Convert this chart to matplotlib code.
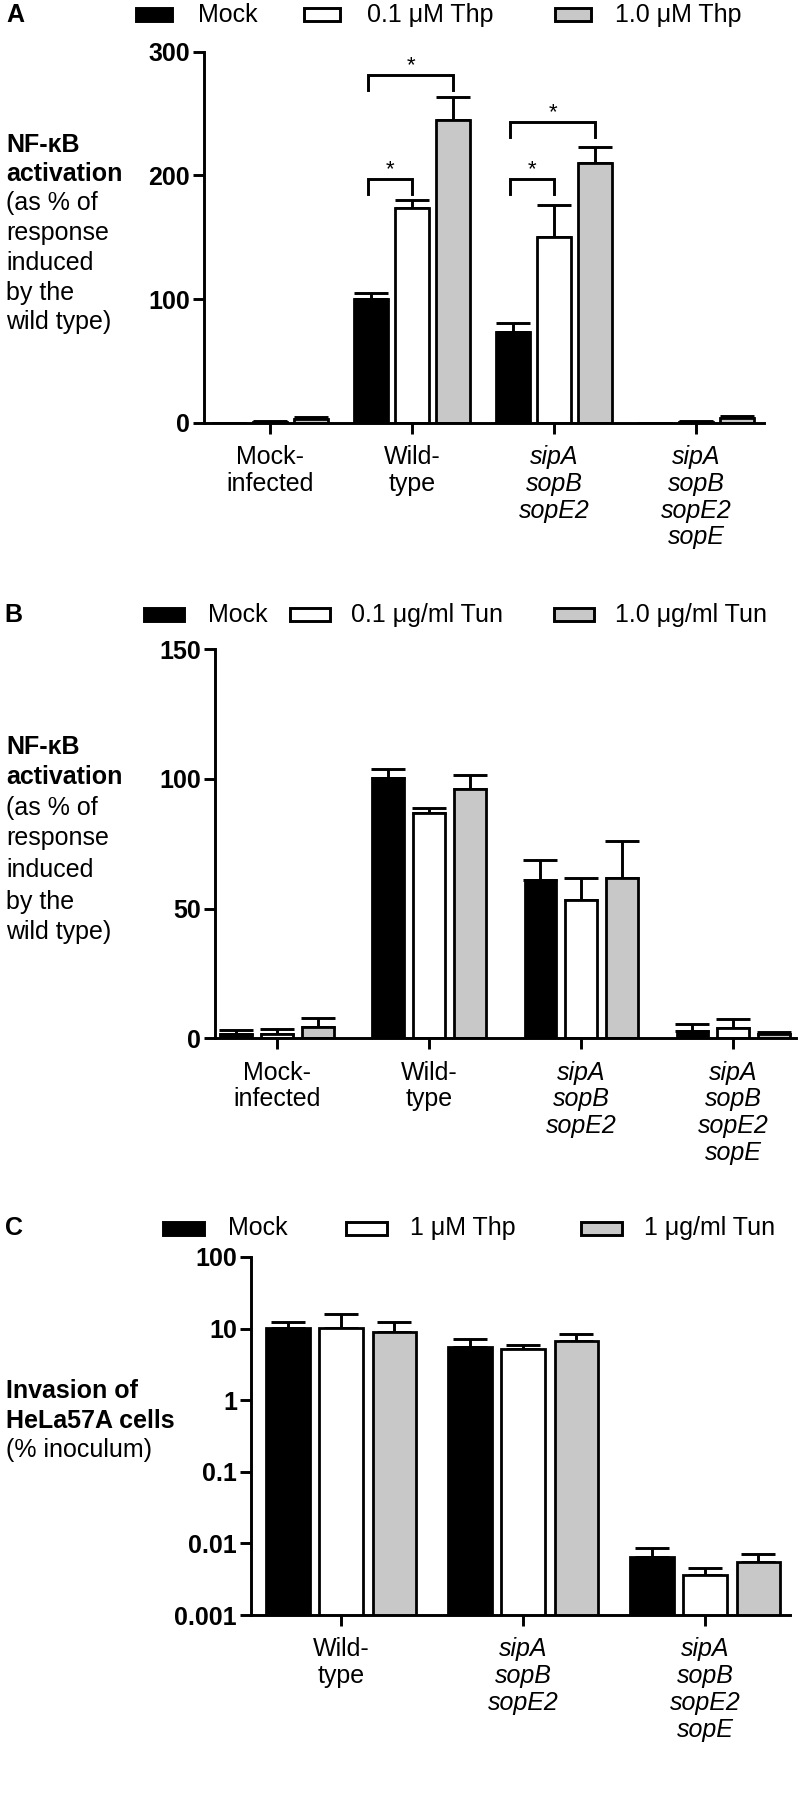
import matplotlib
matplotlib.use('Agg')
import matplotlib.pyplot as plt
import numpy as np
from matplotlib.patches import Rectangle

plt.rcParams['font.family'] = ['Liberation Sans', 'DejaVu Sans']

W, H = 800, 1794
DPI = 100

# ---------------- data ----------------
cats_ab = ['Mock-\ninfected', 'Wild-\ntype', 'sipA\nsopB\nsopE2', 'sipA\nsopB\nsopE2\nsopE']
italic_ab = [False, False, True, True]
cats_c = ['Wild-\ntype', 'sipA\nsopB\nsopE2', 'sipA\nsopB\nsopE2\nsopE']
italic_c = [False, True, True]

series_a = ['Mock', '0.1 \u03bcM Thp', '1.0 \u03bcM Thp']
a_mock = [0, 100, 73.5, 0]
a_thp01 = [0.8, 174, 150, 0.8]
a_thp10 = [3.2, 245, 210, 3.5]
a_mock_err = [0, 4.5, 7.5, 0]
a_thp01_err = [0.7, 6, 26, 0.8]
a_thp10_err = [1.2, 18, 13, 2.2]
a_ticks = [0, 100, 200, 300]
# significance brackets: (category, bar i, bar j, bracket height)
a_sig_cat = [1, 1, 2, 2]
a_sig_i = [0, 0, 0, 0]
a_sig_j = [1, 2, 1, 2]
a_sig_h = [197, 281, 197, 243]

series_b = ['Mock', '0.1 \u03bcg/ml Tun', '1.0 \u03bcg/ml Tun']
b_mock = [1.5, 100.3, 61.2, 2.8]
b_tun01 = [1.5, 86.8, 53.5, 3.8]
b_tun10 = [4.2, 96.0, 61.9, 1.5]
b_mock_err = [1.8, 3.5, 7.6, 2.8]
b_tun01_err = [2.0, 2.0, 8.2, 3.7]
b_tun10_err = [3.8, 5.4, 14.0, 0.8]
b_ticks = [0, 50, 100, 150]

series_c = ['Mock', '1 \u03bcM Thp', '1 \u03bcg/ml Tun']
c_mock = [10.2, 5.56, 0.0065]
c_thp = [10.2, 5.17, 0.00365]
c_tun = [9.0, 6.67, 0.00557]
c_mock_top = [12.2, 7.2, 0.0086]
c_thp_top = [15.8, 5.83, 0.00448]
c_tun_top = [12.2, 8.5, 0.00718]
c_ticks = [0.001, 0.01, 0.1, 1, 10, 100]
c_ticklabels = ['0.001', '0.01', '0.1', '1', '10', '100']

COLORS = ['black', 'white', '#c8c8c8']
FS = 18
LW = 2.1


def fx(x):
    return x / W


def fy(y):
    return 1 - y / H


fig = plt.figure(figsize=(W / DPI, H / DPI), dpi=DPI)


def make_axes(left, right, top, bottom):
    return fig.add_axes([fx(left), fy(bottom), fx(right) - fx(left), fy(top) - fy(bottom)])


def style_axes(ax, cats, italics, ticks, ticklabels):
    for s in ['top', 'right']:
        ax.spines[s].set_visible(False)
    for s in ['left', 'bottom']:
        ax.spines[s].set_linewidth(LW)
    ax.tick_params(axis='both', width=LW, length=8, direction='out')
    ax.tick_params(axis='y', labelsize=FS, pad=2)
    ax.tick_params(axis='x', labelsize=FS, pad=8)
    ax.set_xticks(range(len(cats)))
    ax.set_xticklabels(cats, va='top', linespacing=1.15)
    for lab, it in zip(ax.get_xticklabels(), italics):
        if it:
            lab.set_fontstyle('italic')
    ax.set_yticks(ticks)
    ax.set_yticklabels(ticklabels, fontweight='bold')
    ax.minorticks_off()


def draw_bars(ax, values, errs, width, pitch):
    n = len(values[0])
    x = np.arange(n)
    for k, (vals, er) in enumerate(zip(values, errs)):
        pos = x + (k - 1) * pitch
        ax.bar(pos, vals, width=width, color=COLORS[k], edgecolor='black',
               linewidth=2.0, zorder=2)
        ax.errorbar(pos, vals, yerr=[np.zeros(n), er], fmt='none', ecolor='black',
                    elinewidth=LW, capsize=12, capthick=LW, zorder=1)


def legend_row(y, box_x, box_w, text_x, labels):
    for k in range(3):
        r = Rectangle((fx(box_x[k]), fy(y + 6.5)), box_w / W, 13 / H, transform=fig.transFigure,
                      facecolor=COLORS[k], edgecolor='black', linewidth=LW)
        fig.add_artist(r)
        fig.text(fx(text_x[k]), fy(y), labels[k], fontsize=FS, va='center', ha='left')


def ylabel_lines(lines, ys, bold_n):
    for k, (t, y) in enumerate(zip(lines, ys)):
        fig.text(fx(6), fy(y), t, fontsize=FS, va='center', ha='left',
                 fontweight='bold' if k < bold_n else 'normal')


nfkb_lines = ['NF-\u03baB', 'activation', '(as % of', 'response', 'induced', 'by the', 'wild type)']

# ---------------- Panel A ----------------
axA = make_axes(204, 764, 51.7, 422.7)
pitchA = 0.289
draw_bars(axA, [a_mock, a_thp01, a_thp10], [a_mock_err, a_thp01_err, a_thp10_err],
          width=0.235, pitch=pitchA)
axA.set_xlim(-0.465, 3.479)
axA.set_ylim(0, 300)
style_axes(axA, cats_ab, italic_ab, a_ticks, [str(t) for t in a_ticks])
for c, i, j, h in zip(a_sig_cat, a_sig_i, a_sig_j, a_sig_h):
    x1 = c + (i - 1) * pitchA - 0.02
    x2 = c + (j - 1) * pitchA
    axA.plot([x1, x1, x2, x2], [h - 12, h, h, h - 12], color='black', lw=LW,
             solid_joinstyle='miter', clip_on=False)
    axA.text((x1 + x2) / 2, h + 3, '*', ha='center', va='baseline', fontsize=16)

fig.text(fx(6), fy(15), 'A', fontsize=FS, fontweight='bold', va='center', ha='left')
legend_row(15, [136, 304, 555], 36, [198, 367, 615], series_a)
ylabel_lines(nfkb_lines, [145, 174, 203, 233, 263, 293, 322], 2)

# ---------------- Panel B ----------------
axB = make_axes(215, 796, 649.3, 1038.3)
draw_bars(axB, [b_mock, b_tun01, b_tun10], [b_mock_err, b_tun01_err, b_tun10_err],
          width=0.21, pitch=0.267)
axB.set_xlim(-0.408, 3.414)
axB.set_ylim(0, 150)
style_axes(axB, cats_ab, italic_ab, b_ticks, [str(t) for t in b_ticks])

fig.text(fx(4), fy(615), 'B', fontsize=FS, fontweight='bold', va='center', ha='left')
legend_row(615, [144, 290, 554], 40, [208, 351, 615], series_b)
ylabel_lines(nfkb_lines, [747, 777, 808, 838, 870, 902, 932], 2)

# ---------------- Panel C ----------------
axC = make_axes(251, 790, 1257, 1615)
axC.set_yscale('log')
c_errs = [np.array(t) - np.array(v) for t, v in
          [(c_mock_top, c_mock), (c_thp_top, c_thp), (c_tun_top, c_tun)]]
draw_bars(axC, [c_mock, c_thp, c_tun], c_errs, width=0.24, pitch=0.293)
axC.set_xlim(-0.495, 2.467)
axC.set_ylim(0.001, 100)
style_axes(axC, cats_c, italic_c, c_ticks, c_ticklabels)

fig.text(fx(5), fy(1228), 'C', fontsize=FS, fontweight='bold', va='center', ha='left')
legend_row(1228, [163, 346, 581], 41, [228, 410, 644], series_c)
ylabel_lines(['Invasion of', 'HeLa57A cells', '(% inoculum)'], [1391, 1421, 1450], 2)

fig.savefig('out.png', dpi=DPI)
